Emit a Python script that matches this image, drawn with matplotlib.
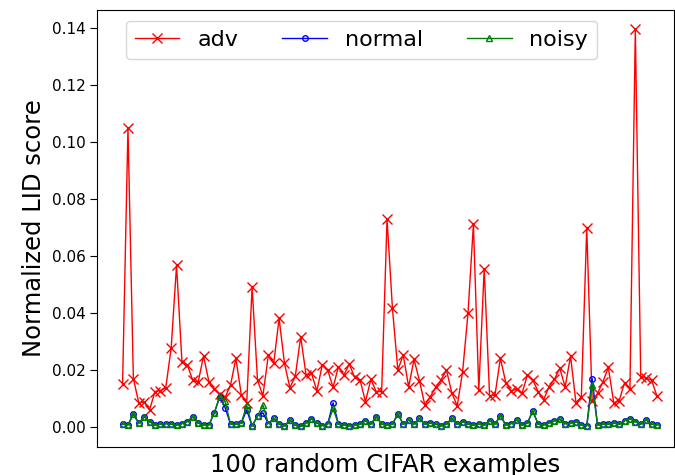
import numpy as np
import matplotlib
matplotlib.use('Agg')
import matplotlib.pyplot as plt

# LID scores, one value per example
adv = [0.015, 0.105, 0.017, 0.0085, 0.0088, 0.006, 0.0124, 0.0128, 0.0138, 0.0276,
       0.0567, 0.0229, 0.0218, 0.0164, 0.0157, 0.0249, 0.0159, 0.0132, 0.0116, 0.0104,
       0.0147, 0.0241, 0.0112, 0.0085, 0.0492, 0.0164, 0.011, 0.0251, 0.0223, 0.0381,
       0.0223, 0.0138, 0.0178, 0.0317, 0.0182, 0.0188, 0.0127, 0.0218, 0.020, 0.0139,
       0.0212, 0.0182, 0.0221, 0.0174, 0.0165, 0.0089, 0.0167, 0.0124, 0.0124, 0.073,
       0.0416, 0.020, 0.0253, 0.0141, 0.0237, 0.0163, 0.0077, 0.0106, 0.0139, 0.0165,
       0.020, 0.012, 0.0074, 0.0194, 0.0399, 0.0711, 0.013, 0.0555, 0.0109, 0.0112,
       0.0241, 0.0156, 0.0127, 0.0132, 0.0118, 0.0182, 0.0165, 0.0124, 0.0095, 0.0141,
       0.0167, 0.0206, 0.0141, 0.0249, 0.0085, 0.0106, 0.0698, 0.009, 0.0118, 0.0159,
       0.0209, 0.0085, 0.0092, 0.0155, 0.0132, 0.1395, 0.0177, 0.0171, 0.0165, 0.0109]

normal = [0.001, 0.0007, 0.0046, 0.0013, 0.0036, 0.0019, 0.0007, 0.001, 0.0012, 0.001,
          0.0007, 0.0012, 0.0019, 0.0036, 0.0014, 0.0007, 0.0007, 0.005, 0.0105, 0.0068,
          0.001, 0.001, 0.0014, 0.006, 0.0003, 0.0039, 0.005, 0.0012, 0.003, 0.001,
          0.0004, 0.0024, 0.0006, 0.0002, 0.0014, 0.0029, 0.0014, 0.0005, 0.001, 0.0085,
          0.001, 0.0007, 0.0004, 0.0007, 0.001, 0.0022, 0.001, 0.0036, 0.001, 0.0007,
          0.001, 0.0046, 0.001, 0.0025, 0.001, 0.003, 0.001, 0.0014, 0.001, 0.0004,
          0.001, 0.003, 0.001, 0.0019, 0.001, 0.0007, 0.001, 0.0007, 0.0022, 0.001,
          0.004, 0.0007, 0.0012, 0.0025, 0.0007, 0.0014, 0.0056, 0.001, 0.0007, 0.0014,
          0.0022, 0.0027, 0.0012, 0.0014, 0.0019, 0.0007, 0.0004, 0.017, 0.0007, 0.001,
          0.001, 0.0014, 0.001, 0.0022, 0.0029, 0.0019, 0.001, 0.0025, 0.001, 0.0007]

noisy = [0.001, 0.0007, 0.0046, 0.0013, 0.0036, 0.0019, 0.0007, 0.001, 0.0012, 0.001,
         0.0007, 0.0012, 0.0019, 0.0036, 0.0014, 0.0007, 0.0007, 0.005, 0.0108, 0.009,
         0.001, 0.001, 0.0014, 0.0077, 0.0003, 0.0039, 0.0077, 0.0012, 0.003, 0.001,
         0.0004, 0.0024, 0.0006, 0.0002, 0.0014, 0.0029, 0.0014, 0.0005, 0.001, 0.0065,
         0.001, 0.0007, 0.0004, 0.0007, 0.001, 0.0022, 0.001, 0.0036, 0.001, 0.0007,
         0.001, 0.0046, 0.001, 0.0025, 0.001, 0.003, 0.001, 0.0014, 0.001, 0.0004,
         0.001, 0.003, 0.001, 0.0019, 0.001, 0.0007, 0.001, 0.0007, 0.0022, 0.001,
         0.004, 0.0007, 0.0012, 0.0025, 0.0007, 0.0014, 0.0056, 0.001, 0.0007, 0.0014,
         0.0022, 0.0027, 0.0012, 0.0014, 0.0019, 0.0007, 0.0004, 0.0148, 0.0007, 0.001,
         0.001, 0.0014, 0.001, 0.0022, 0.0029, 0.0019, 0.001, 0.0025, 0.001, 0.0007]

x = np.arange(len(adv))

fig = plt.figure(figsize=(6.75, 4.75), dpi=100)
ax = fig.add_axes([0.144, 0.059, 0.854, 0.92])

ax.plot(x, adv, 'r-x', linewidth=1, markersize=7, label='adv')
ax.plot(x, normal, 'b-o', linewidth=1, markersize=4, markerfacecolor='none', label='normal')
ax.plot(x, noisy, 'g-^', linewidth=1, markersize=4, markerfacecolor='none', label='noisy')

ax.set_xlim(-4.7, 102.1)
ax.set_ylim(-0.007, 0.1463)
ax.set_xticks([])
ax.tick_params(axis='y', labelsize=11, length=5)
ax.set_xlabel('100 random CIFAR examples', fontsize=17.5)
ax.set_ylabel('Normalized LID score', fontsize=17.5)
ax.legend(loc='upper left', bbox_to_anchor=(0.05, 0.975), borderaxespad=0,
          ncol=3, fontsize=16)

fig.savefig('out.png', dpi=100)
